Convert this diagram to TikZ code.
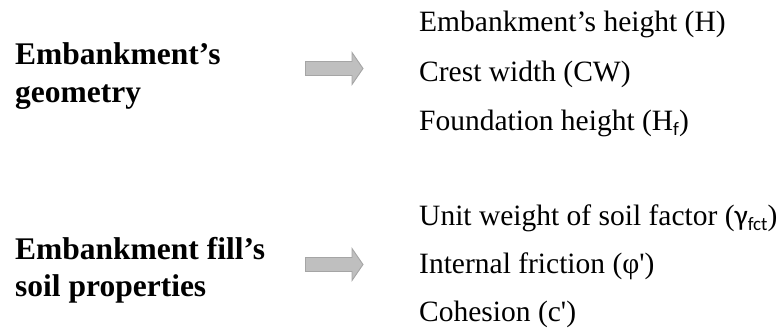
\documentclass[tikz,border=0pt]{standalone}
\usepackage{fontspec}
\usetikzlibrary{calc}
\setmainfont{Liberation Serif}
\newfontfamily\carlito{Carlito}
\definecolor{arrowfill}{HTML}{BFBFBF}
\definecolor{arrowedge}{HTML}{A5A5A5}
\tikzset{
  headtext/.style={anchor=base west, inner sep=0pt, font=\bfseries\fontsize{31.5}{38}\selectfont},
  itemtext/.style={anchor=base west, inner sep=0pt, font=\fontsize{29.5}{36}\selectfont},
  blockarrow/.style={fill=arrowfill, draw=arrowedge, line width=0.9pt, line join=miter}
}
\newcommand{\subsans}[1]{\raisebox{-0.18em}{\carlito\fontsize{19}{19}\selectfont #1}}
\begin{document}
\begin{tikzpicture}[x=1pt,y=-1pt]
\useasboundingbox (0,0) rectangle (778,333);
% left headings
\node[headtext] (g1) at (15,64) {Embankment’s};
\node[headtext] (g2) at (15,102) {geometry};
\node[headtext] (s1) at (15,259) {Embankment fill’s};
\node[headtext] (s2) at (15,296) {soil properties};
% arrows
\coordinate (a1) at (305.5,68.5);
\coordinate (a2) at (305.5,264.5);
\foreach \c in {a1,a2}{
  \draw[blockarrow] ($(\c)+(0,-7)$) -- ++(46.5,0) -- ++(0,-9) -- ++(11,16) -- ++(-11,16) -- ++(0,-9) -- ++(-46.5,0) -- cycle;
}
% right items
\node[itemtext] (h1) at (419,31.7) {Embankment’s height (H)};
\node[itemtext] (h2) at (419,81) {Crest width (CW)};
\node[itemtext] (h3) at (419,130.3) {Foundation height (H\subsans{f})};
\node[itemtext] (p1) at (419,225) {Unit weight of soil factor ({\carlito γ}\subsans{fct})};
\node[itemtext] (p2) at (419,273.3) {Internal friction (φ\textquotesingle)};
\node[itemtext] (p3) at (419,321.7) {Cohesion (c\textquotesingle)};
\end{tikzpicture}
\end{document}
